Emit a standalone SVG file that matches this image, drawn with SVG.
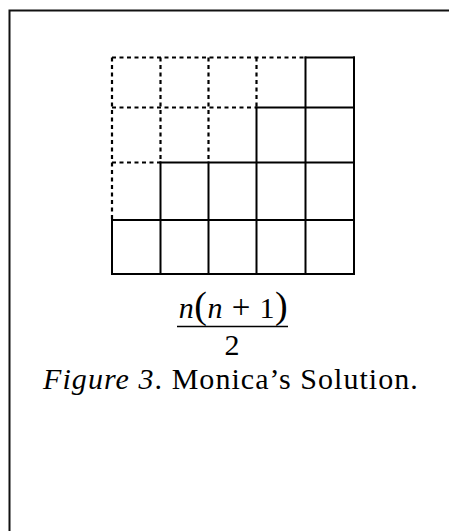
<svg xmlns="http://www.w3.org/2000/svg" width="449" height="531" viewBox="0 0 449 531">
<style>
.s{stroke:#000;stroke-width:2;fill:none;stroke-linecap:square}
.d{stroke:#000;stroke-width:2.2;fill:none;stroke-dasharray:4 3.5}
.t{font-family:"Liberation Serif",serif;fill:#000}
</style>
<rect x="0" y="0" width="449" height="531" fill="#fff"/>
<path d="M9.5 540 V10.5 H460" stroke="#111" stroke-width="2" fill="none"/>
<g id="grid">
<g id="solid">
<path class="s" d="M112 274H354M112 220H354M160.5 162.5H354M256.5 107.5H354M305.5 57.5H354"/>
<path class="s" d="M354 57.5V274M305.5 57.5V274M256.5 107.5V274M208.5 162.5V274M160.5 162.5V274M112 220V274"/>
</g>
<g id="dashed">
<path class="d" d="M112 57.5H305.5M112 107.5H256.5M112 162.5H160.5"/>
<path class="d" d="M112 57.5V220M160.5 57.5V162.5M208.5 57.5V162.5M256.5 57.5V107.5"/>
</g>
</g>
<g id="formula">
<text class="t" x="233.5" y="318" text-anchor="middle" font-size="30" letter-spacing="0.5"><tspan font-style="italic">n</tspan><tspan font-size="38">(</tspan><tspan font-style="italic">n</tspan><tspan font-size="33"> + </tspan>1<tspan font-size="38">)</tspan></text>
<line x1="177" y1="326.5" x2="288" y2="326.5" stroke="#000" stroke-width="1.5"/>
<text class="t" x="232" y="355" text-anchor="middle" font-size="30">2</text>
</g>
<text id="caption" class="t" x="231" y="389" text-anchor="middle" font-size="30" letter-spacing="1.05"><tspan font-style="italic">Figure 3</tspan>. Monica’s Solution.</text>
</svg>
